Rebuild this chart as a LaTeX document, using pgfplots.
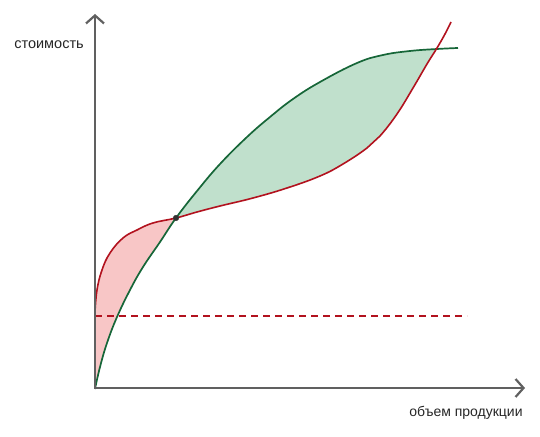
\documentclass[border=0pt]{standalone}
\usepackage{pgfplots}
\pgfplotsset{compat=1.18}
\usepgfplotslibrary{fillbetween}
\usetikzlibrary{arrows.meta}
\usepackage{fontspec}
\setmainfont{Liberation Sans}
\definecolor{redline}{RGB}{178,18,30}
\definecolor{redfill}{RGB}{248,198,198}
\definecolor{greenline}{RGB}{22,102,56}
\definecolor{greenfill}{RGB}{192,224,204}
\definecolor{axisgray}{RGB}{96,96,96}
\pgfplotstableread{
x y
95 47
100 69
107 93
117 119
130 146
143 169
160 194
176 218
197 245
220 272
247 299
270 319
293 337
320 354
357 373
383 381
410 385
437 387
458 388
}\greendata
\pgfplotstableread{
x y
95 124
97 146
102 166
110 183
123 198
137 206
153 213
176 218
197 224
220 230
253 238
287 248
320 260
343 272
367 288
380 300
397 322
413 348
427 372
437 388
445 402
451 414
}\reddata
\begin{document}
\begin{tikzpicture}
\begin{axis}[
  x=1pt, y=1pt,
  xmin=0, xmax=540, ymin=0, ymax=436,
  hide axis, clip=false,
]
\addplot[draw=none, forget plot] coordinates {(0,0) (540,436)};
\addplot[name path=green, draw=none, smooth, tension=0.7] table {\greendata};
\addplot[name path=red, draw=none, smooth, tension=0.7] table {\reddata};
\addplot[redfill] fill between[of=red and green, soft clip={domain=95:176}];
\addplot[greenfill] fill between[of=red and green, soft clip={domain=176:437}];
% fixed cost dashed
\addplot[draw=redline, line width=1.6pt, dash pattern=on 7pt off 5pt] coordinates {(95,120) (467,120)};
% curves
\addplot[draw=greenline, line width=1.7pt, smooth, tension=0.7] table {\greendata};
\addplot[draw=redline, line width=1.6pt, smooth, tension=0.7] table {\reddata};
% axes
\addplot[draw=axisgray, line width=2.2pt, -{Straight Barb[length=8pt,width=18pt]}] coordinates {(95,47) (95,422)};
\addplot[draw=axisgray, line width=2.2pt, -{Straight Barb[length=8pt,width=18pt]}] coordinates {(94,48) (525,48)};
% intersection point
\addplot[only marks, mark=*, mark size=2.8pt, mark options={fill=darkgray!80!black, draw=darkgray!80!black}] coordinates {(176,218)};
\node[font=\fontsize{14.5}{17}\selectfont, text=black!85] at (axis cs:49,391) {стоимость};
\node[font=\fontsize{14}{17}\selectfont, text=black!85] at (axis cs:466,23) {объем продукции};
\end{axis}
\end{tikzpicture}
\end{document}
